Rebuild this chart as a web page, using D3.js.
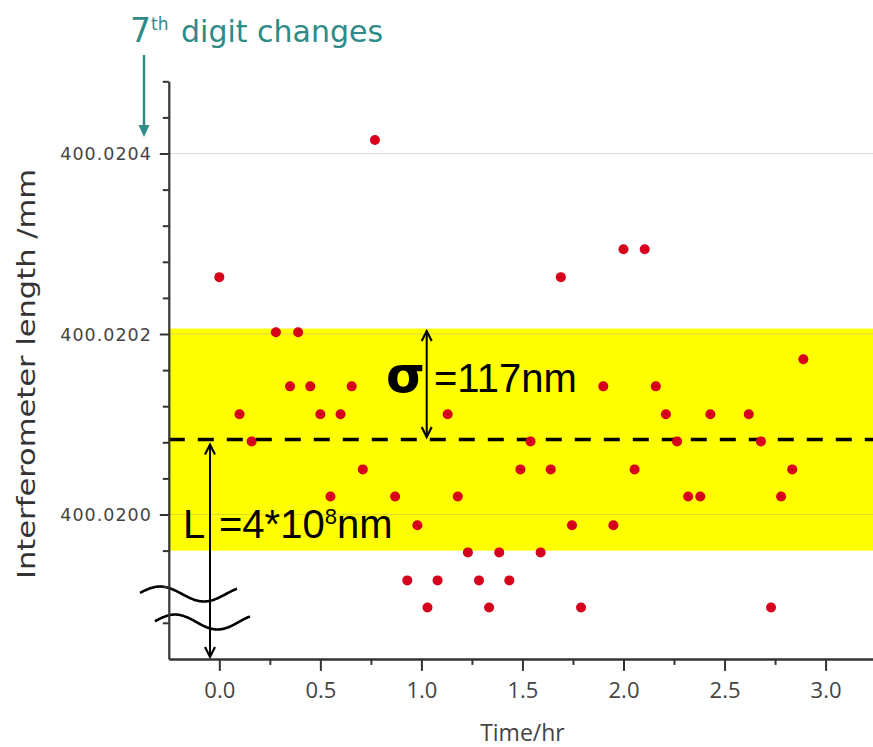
<!DOCTYPE html>
<html><head><meta charset="utf-8">
<script src="https://cdn.jsdelivr.net/npm/d3@7"></script>
<style>body{margin:0;background:#fff}svg{display:block}</style>
</head><body>
<svg id="chart" width="873" height="747"></svg>
<script>
// ---- data ----
const times = [0.00,0.10,0.16,0.28,0.35,0.39,0.45,0.50,0.55,0.60,0.655,0.71,0.77,0.87,0.93,0.98,1.03,1.08,1.13,1.18,1.23,1.285,1.335,1.385,1.435,1.49,1.54,1.59,1.64,1.69,1.745,1.79,1.90,1.95,2.00,2.055,2.105,2.16,2.21,2.265,2.32,2.38,2.43,2.62,2.68,2.73,2.78,2.835,2.89];
const lengths = [400.020263,400.020111,400.020081,400.020202,400.020142,400.020202,400.020142,400.020111,400.020020,400.020111,400.020142,400.020050,400.020415,400.020020,400.019927,400.019988,400.019897,400.019927,400.020111,400.020020,400.019958,400.019927,400.019897,400.019958,400.019927,400.020050,400.020081,400.019958,400.020050,400.020263,400.019988,400.019897,400.020142,400.019988,400.020294,400.020050,400.020294,400.020142,400.020111,400.020081,400.020020,400.020020,400.020111,400.020111,400.020081,400.019897,400.020020,400.020050,400.020172];
const xMajorTicks = [0,0.5,1.0,1.5,2.0,2.5,3.0];
const xMinorTicks = [0.25,0.75,1.25,1.75,2.25,2.75];
const yMajorTicks = [400.0200,400.0202,400.0204];
const yMinorTicks = [400.01988,400.01992,400.01996,400.02004,400.02008,400.02012,400.02016,400.02024,400.02028,400.02032,400.02036,400.02044,400.02048];
const meanLength = 400.020083;
const sigmaBand = 0.000123;
const xDomain = [-0.25, 3.25];
const yDomain = [400.01984, 400.02048];

const W = 873, H = 747;
const svg = d3.select("#chart");
const x = d3.scaleLinear().domain(xDomain).range([168.8, 876.1]);
const y = d3.scaleLinear().domain(yDomain).range([658.9, 81.3]);
const x0 = x(xDomain[0]), yb = y(yDomain[0]);

// yellow sigma band
svg.append("rect")
  .attr("x", x0).attr("width", W - x0)
  .attr("y", y(meanLength + sigmaBand))
  .attr("height", y(meanLength - sigmaBand) - y(meanLength + sigmaBand))
  .attr("fill", "#ffff00");

// gridlines
svg.append("g").selectAll("line").data(yMajorTicks).join("line")
  .attr("x1", x0).attr("x2", W)
  .attr("y1", d => y(d)).attr("y2", d => y(d))
  .attr("stroke", "#8a8a8a").attr("stroke-opacity", 0.3).attr("stroke-width", 1);

// mean dashed line
svg.append("line")
  .attr("x1", x0).attr("x2", W)
  .attr("y1", y(meanLength)).attr("y2", y(meanLength))
  .attr("stroke", "#000").attr("stroke-width", 3.5)
  .attr("stroke-dasharray", "16,13");

// points
svg.append("g").selectAll("circle").data(times).join("circle")
  .attr("cx", d => x(d)).attr("cy", (d, i) => y(lengths[i]))
  .attr("r", 5).attr("fill", "#d6001c");

// axis break waves
function wave(xs, xe, xPeak, period, yc, amp) {
  const pts = d3.range(xs, xe + 0.5, 1).map(px => [px, yc - amp * Math.sin(Math.PI / 2 + 2 * Math.PI * (px - xPeak) / period)]);
  return d3.line().curve(d3.curveBasis)(pts);
}
svg.append("path").attr("d", wave(140, 237, 160, 88, 594, 7.5))
  .attr("fill", "none").attr("stroke", "#000").attr("stroke-width", 2.6);
svg.append("path").attr("d", wave(155, 250, 175, 85, 622, 7.5))
  .attr("fill", "none").attr("stroke", "#000").attr("stroke-width", 2.6);

// double-headed arrows
function arrow(g, ax, y1, y2) {
  g.append("line").attr("x1", ax).attr("x2", ax).attr("y1", y1).attr("y2", y2)
    .attr("stroke", "#000").attr("stroke-width", 2);
  g.append("path").attr("d", `M${ax-5},${y1+10}L${ax},${y1}L${ax+5},${y1+10}`)
    .attr("fill", "none").attr("stroke", "#000").attr("stroke-width", 2.2);
  g.append("path").attr("d", `M${ax-5},${y2-10}L${ax},${y2}L${ax+5},${y2-10}`)
    .attr("fill", "none").attr("stroke", "#000").attr("stroke-width", 2.2);
}
const ann = svg.append("g");
arrow(ann, 426.7, y(meanLength + sigmaBand) + 2.5, y(meanLength) - 2.5);
arrow(ann, 210, y(meanLength) + 5, yb - 2);

// annotation texts
ann.append("text").attr("x", 386).attr("y", 392)
  .style("font-family", "DejaVu Sans").style("font-weight", "bold").style("font-size", "50px")
  .text("σ");
ann.append("text").attr("x", 434).attr("y", 392)
  .style("font-family", "Liberation Sans, Arial").style("font-size", "40px")
  .text("=117nm");
ann.append("text").attr("x", 183).attr("y", 538)
  .style("font-family", "Liberation Sans, Arial").style("font-size", "40px")
  .text("L");
const lt = ann.append("text").attr("x", 219).attr("y", 538)
  .style("font-family", "Liberation Sans, Arial").style("font-size", "40px");
lt.append("tspan").text("=4*10");
lt.append("tspan").attr("dy", -14).style("font-size", "22px").text("8");
lt.append("tspan").attr("dy", 14).text("nm");

// x axis
const gx = svg.append("g").attr("transform", `translate(0,${yb})`);
gx.call(d3.axisBottom(x).tickValues(xMajorTicks).tickSize(12).tickSizeOuter(0).tickFormat(d3.format(".1f")));
const gxm = svg.append("g").attr("transform", `translate(0,${yb})`);
gxm.call(d3.axisBottom(x).tickValues(xMinorTicks).tickSize(6).tickSizeOuter(0).tickFormat(""));
gxm.select(".domain").remove();
gx.select(".domain").attr("stroke", "#333").attr("stroke-width", 2.5);
gx.selectAll("text").attr("y", 39).attr("dy", 0)
  .style("font-family", "Open Sans").style("font-size", "22px").attr("fill", "#444");

// y axis
const gy = svg.append("g").attr("transform", `translate(${x0},0)`);
gy.call(d3.axisLeft(y).tickValues(yMajorTicks).tickSize(9).tickSizeOuter(0).tickFormat(d3.format(".4f")));
const gym = svg.append("g").attr("transform", `translate(${x0},0)`);
gym.call(d3.axisLeft(y).tickValues(yMinorTicks).tickSize(6).tickSizeOuter(0).tickFormat(""));
gym.select(".domain").remove();
gy.select(".domain").attr("stroke", "#333").attr("stroke-width", 2.2);
svg.selectAll(".tick line").attr("stroke", "#333").attr("stroke-width", 2);
gy.selectAll("text").attr("x", -17).attr("dy", "0.36em")
  .style("font-family", "DejaVu Sans").style("font-size", "17.5px")
  .style("letter-spacing", "1px").attr("fill", "#444");

// axis titles
svg.append("text").attr("x", x(1.5)).attr("y", 741).attr("text-anchor", "middle")
  .style("font-family", "Open Sans").style("font-size", "23px").attr("fill", "#444")
  .text("Time/hr");
svg.append("text").attr("transform", "translate(26,374) rotate(-90)")
  .attr("text-anchor", "middle").attr("dominant-baseline", "central")
  .attr("textLength", 410).attr("lengthAdjust", "spacingAndGlyphs")
  .style("font-family", "DejaVu Sans").style("font-size", "25px").attr("fill", "#333")
  .text("Interferometer length /mm");

// top annotation
const teal = "#2e8b87";
const tt = svg.append("text").attr("y", 41.7).attr("fill", teal)
  .style("font-family", "DejaVu Sans");
tt.append("tspan").attr("x", 130).style("font-size", "33px").text("7");
tt.append("tspan").attr("dy", -12).style("font-size", "17px").text("th");
tt.append("tspan").attr("x", 181).attr("dy", 12).style("font-size", "30px").text("digit changes");
svg.append("line").attr("x1", 144).attr("x2", 144).attr("y1", 55).attr("y2", 128)
  .attr("stroke", teal).attr("stroke-width", 2.5);
svg.append("path").attr("d", "M138.5,125L149.5,125L144,137Z").attr("fill", teal);
</script>
</body></html>
